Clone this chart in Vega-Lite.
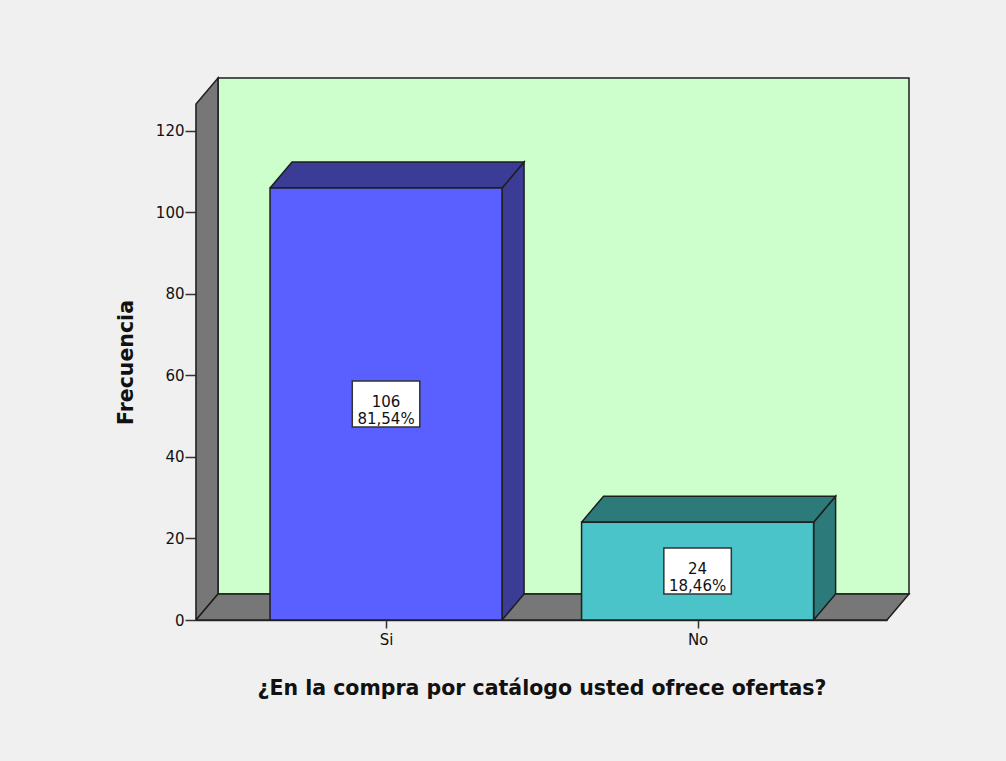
{
  "$schema": "https://vega.github.io/schema/vega-lite/v6.json",
  "width": 691,
  "height": 516,
  "autosize": {"type": "none"},
  "padding": {"left": 196, "top": 104, "right": 119, "bottom": 141},
  "background": "#F0F0F0",
  "config": {
    "view": {"stroke": null},
    "font": "DejaVu Sans",
    "axis": {
      "grid": false, "zindex": 1,
      "domainColor": "#333333", "domainWidth": 1.5,
      "tickColor": "#333333", "tickWidth": 1.5,
      "labelFont": "DejaVu Sans", "labelFontSize": 15, "labelColor": "#111111",
      "titleFont": "DejaVu Sans", "titleFontSize": 20.5, "titleFontWeight": "bold", "titleColor": "#111111"
    },
    "axisX": {"tickSize": 8, "labelPadding": 4, "titlePadding": 31},
    "axisY": {"tickSize": 11, "labelPadding": 1, "titlePadding": 19}
  },
  "data": {
    "values": [
      {"respuesta": "Si", "frecuencia": 106},
      {"respuesta": "No", "frecuencia": 24}
    ]
  },
  "layer": [
    {
      "transform": [
        {"aggregate": [{"op": "count", "as": "n"}]},
        {"calculate": "[['fondo',0,0.4606,6.38],['fondo',1,2.6786,6.38],['fondo',2,2.6786,132.98],['fondo',3,0.4606,132.98],['fondo',4,0.4606,6.38],['lateral',0,0.39,0],['lateral',1,0.39,126.6],['lateral',2,0.4606,132.98],['lateral',3,0.4606,6.38],['lateral',4,0.39,0],['suelo',0,0.39,0],['suelo',1,2.608,0],['suelo',2,2.6786,6.38],['suelo',3,0.4606,6.38],['suelo',4,0.39,0]]", "as": "v"},
        {"flatten": ["v"]},
        {"calculate": "datum.v[0]", "as": "cara"},
        {"calculate": "datum.v[1]", "as": "k"},
        {"calculate": "datum.v[2]", "as": "vx"},
        {"calculate": "datum.v[3]", "as": "vy"}
      ],
      "layer": [
        {
          "transform": [{"filter": "datum.cara == 'fondo'"}],
          "mark": {"type": "line", "fill": "#CCFFCC", "stroke": "#1E1E1E", "strokeWidth": 1.5},
          "encoding": {
            "x": {"field": "vx", "type": "quantitative", "scale": {"domain": [0.39, 2.608], "nice": false, "zero": false}},
            "y": {"field": "vy", "type": "quantitative", "scale": {"domain": [0, 126.6], "nice": false}},
            "order": {"field": "k"}
          }
        },
        {
          "transform": [{"filter": "datum.cara != 'fondo'"}],
          "mark": {"type": "line", "fill": "#777777", "stroke": "#1E1E1E", "strokeWidth": 1.5},
          "encoding": {
            "x": {"field": "vx", "type": "quantitative"},
            "y": {"field": "vy", "type": "quantitative"},
            "detail": {"field": "cara"},
            "order": {"field": "k"}
          }
        }
      ]
    },
    {
      "transform": [
        {"window": [{"op": "row_number", "as": "pos"}]},
        {"calculate": "[['lado',0,1,0,0],['lado',1,1,1,0],['lado',2,1,1,1],['lado',3,1,0,1],['lado',4,1,0,0],['techo',0,0,1,0],['techo',1,1,1,0],['techo',2,1,1,1],['techo',3,0,1,1],['techo',4,0,1,0]]", "as": "v"},
        {"flatten": ["v"]},
        {"calculate": "datum.v[0] + '-' + datum.respuesta", "as": "cara"},
        {"calculate": "datum.v[1]", "as": "k"},
        {"calculate": "datum.pos - 0.3724 + datum.v[2] * 0.7448 + datum.v[4] * 0.0706", "as": "vx"},
        {"calculate": "datum.v[3] * datum.frecuencia + datum.v[4] * 6.38", "as": "vy"}
      ],
      "mark": {"type": "line", "stroke": "#1E1E1E", "strokeWidth": 1.5},
      "encoding": {
        "x": {"field": "vx", "type": "quantitative"},
        "y": {"field": "vy", "type": "quantitative"},
        "fill": {"field": "respuesta", "type": "nominal", "scale": {"domain": ["Si", "No"], "range": ["#3A3C96", "#2D7A7A"]}, "legend": null},
        "detail": {"field": "cara"},
        "order": {"field": "k"}
      }
    },
    {
      "transform": [
        {"window": [{"op": "row_number", "as": "pos"}]},
        {"calculate": "datum.pos - 0.3724", "as": "xl"},
        {"calculate": "datum.pos + 0.3724", "as": "xr"}
      ],
      "mark": {"type": "rect", "stroke": "#1E1E1E", "strokeWidth": 1.5},
      "encoding": {
        "x": {
          "field": "xl", "type": "quantitative",
          "axis": {
            "title": "¿En la compra por catálogo usted ofrece ofertas?",
            "values": [1, 2],
            "labelExpr": "datum.value == 1 ? 'Si' : 'No'"
          }
        },
        "x2": {"field": "xr"},
        "y": {
          "field": "frecuencia", "type": "quantitative",
          "axis": {
            "title": "Frecuencia",
            "values": [0, 20, 40, 60, 80, 100, 120]
          }
        },
        "y2": {"datum": 0},
        "fill": {"field": "respuesta", "type": "nominal", "scale": {"domain": ["Si", "No"], "range": ["#5A5FFF", "#4AC4C8"]}, "legend": null}
      }
    },
    {
      "transform": [
        {"window": [{"op": "row_number", "as": "pos"}]},
        {"calculate": "datum.frecuencia / 2", "as": "mitad"}
      ],
      "mark": {"type": "point", "shape": "M-1,-0.6815L1,-0.6815L1,0.6815L-1,0.6815Z", "size": 4556, "filled": true, "fill": "#FFFFFF", "stroke": "#333333", "strokeWidth": 1.5, "opacity": 1},
      "encoding": {
        "x": {"field": "pos", "type": "quantitative"},
        "y": {"field": "mitad", "type": "quantitative"}
      }
    },
    {
      "transform": [
        {"window": [{"op": "row_number", "as": "pos"}]},
        {"joinaggregate": [{"op": "sum", "field": "frecuencia", "as": "total"}]},
        {"calculate": "datum.frecuencia / 2", "as": "mitad"},
        {"calculate": "[toString(datum.frecuencia), replace(format(100 * datum.frecuencia / datum.total, '.2f'), '.', ',') + '%']", "as": "etiqueta"}
      ],
      "mark": {"type": "text", "font": "DejaVu Sans", "fontSize": 15, "lineHeight": 17, "align": "center", "baseline": "middle", "dy": -2, "color": "#111111"},
      "encoding": {
        "x": {"field": "pos", "type": "quantitative"},
        "y": {"field": "mitad", "type": "quantitative"},
        "text": {"field": "etiqueta"}
      }
    }
  ],
  "resolve": {"scale": {"fill": "independent"}}
}
